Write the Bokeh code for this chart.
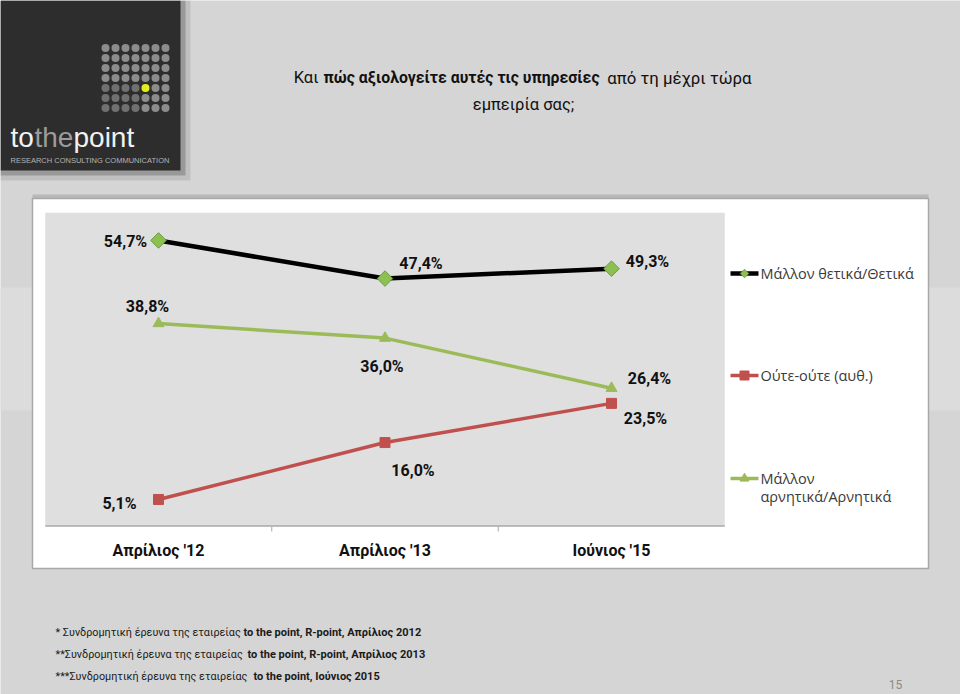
from bokeh.plotting import figure
from bokeh.models import Range1d, ColumnDataSource
from bokeh.core.properties import value
from bokeh.embed import file_html
from bokeh.resources import INLINE

# ---------------- data ----------------
categories = ["Απρίλιος '12", "Απρίλιος '13", "Ιούνιος '15"]
positive = [54.7, 47.4, 49.3]   # Μάλλον θετικά/Θετικά
neutral = [5.1, 16.0, 23.5]     # Ούτε-ούτε (αυθ.)
negative = [38.8, 36.0, 26.4]   # Μάλλον αρνητικά/Αρνητικά
series_names = ["Μάλλον θετικά/Θετικά", "Ούτε-ούτε (αυθ.)", "Μάλλον", "αρνητικά/Αρνητικά"]

title_1a = "Και"
title_1b = "πώς αξιολογείτε αυτές τις υπηρεσίες"
title_1c = "από τη μέχρι τώρα"
title_2 = "εμπειρία σας;"
notes_normal = ["* Συνδρομητική έρευνα της εταιρείας",
                "**Συνδρομητική έρευνα της εταιρείας",
                "***Συνδρομητική έρευνα της εταιρείας"]
notes_bold = ["to the point, R-point, Απρίλιος 2012",
              "to the point, R-point, Απρίλιος 2013",
              "to the point, Ιούνιος 2015"]
page_no = "15"

# label placement (pixel offsets from each point)
pos_dx, pos_dy = [-33, 36, 36], [1, -15, -7]
neu_dx, neu_dy = [-39, 28, 34], [4, 28, 15]
neg_dx, neg_dy = [-11, -3, 38], [-17, 28, -10]

def fmt(v):
    return f"{v:.1f}".replace(".", ",") + "%"

# ---------------- figure ----------------
W, H = 960, 694
p = figure(width=W, height=H, output_backend="svg", toolbar_location=None,
           x_range=Range1d(0, W), y_range=Range1d(H, 0),
           x_axis_location=None, y_axis_location=None, min_border=0)
p.outline_line_color = None
p.xgrid.visible = False
p.ygrid.visible = False
BG = "#d5d5d5"
p.background_fill_color = BG
p.border_fill_color = BG

def X(px):
    return px

def Y(py):
    return py

# scales for the chart itself
step = 226.5
xs0 = -158 / step
p.extra_x_ranges = {"cat": Range1d(xs0, xs0 + W / step)}
m = 5.222
ye = 525.6 / m
p.extra_y_ranges = {"pct": Range1d(ye - H / m, ye)}

# ---------------- slide decorations ----------------
p.quad(left=[X(0), X(928)], right=[X(32), X(960)], top=[Y(287), Y(287)], bottom=[Y(410), Y(410)],
       fill_color="#dcdcdc", line_color=None)

# logo shadow + box
p.quad(left=[X(0)], right=[X(190)], top=[Y(0)], bottom=[Y(180)], fill_color="#9a9a9a", fill_alpha=0.35, line_color=None)
p.quad(left=[X(0)], right=[X(185)], top=[Y(0)], bottom=[Y(175)], fill_color="#6a6a6a", fill_alpha=0.45, line_color=None)
p.quad(left=[X(0)], right=[X(180)], top=[Y(0)], bottom=[Y(170)], fill_color="#2d2d2d", line_color=None)

dot_x, dot_y, dot_c = [], [], []
for j in range(7):
    for i in range(7):
        dot_x.append(X(105 + 10 * i))
        dot_y.append(Y(47.5 + 10 * j))
        if i == 4 and j == 4:
            dot_c.append("#e3ef1c")
        elif j >= 4 and i <= 3:
            dot_c.append("#707070")
        else:
            dot_c.append("#8c8c8c")
p.scatter(x=dot_x, y=dot_y, size=8, marker="circle", fill_color=dot_c, line_color=None)

p.text(x=[X(10), X(34), X(73)], y=[Y(137)] * 3, text=["to", "the", "point"],
       text_color=["#f2f2f2", "#9c9c9c", "#f2f2f2"], text_font=value("Liberation Sans"),
       text_font_size="28px", text_align="left", text_baseline="alphabetic")
p.text(x=[X(10)], y=[Y(160)], text=["RESEARCH  CONSULTING  COMMUNICATION"], text_color="#b4b4b4",
       text_font=value("Liberation Sans"), text_font_size="7.5px", text_align="left", text_baseline="middle")

# title
p.text(x=[X(318)], y=[Y(77)], text=[title_1a], text_font=value("Roboto"), text_font_size="16.5px",
       text_color="#111111", text_align="right", text_baseline="middle")
p.text(x=[X(461)], y=[Y(77)], text=[title_1b], text_font=value("Roboto"), text_font_size="15.8px",
       text_font_style="bold", text_color="#111111", text_align="center", text_baseline="middle")
p.text(x=[X(751)], y=[Y(77)], text=[title_1c], text_font=value("Roboto"), text_font_size="16.8px",
       text_color="#111111", text_align="right", text_baseline="middle")
p.text(x=[X(523)], y=[Y(104)], text=[title_2], text_font=value("Roboto"), text_font_size="16.5px",
       text_color="#111111", text_align="center", text_baseline="middle")

# chart box
p.quad(left=[X(32)], right=[X(928)], top=[Y(194)], bottom=[Y(198)], fill_color="#b8b8b8", line_color=None)
p.quad(left=[X(32)], right=[X(928)], top=[Y(198)], bottom=[Y(568)], fill_color="white",
       line_color="#a8a8a8", line_width=1.5)

# plot area
p.quad(left=[-0.5], right=[2.5], bottom=[0], top=[60], fill_color="#dfdfdf", line_color=None,
       x_range_name="cat", y_range_name="pct")
p.segment(x0=[-0.5], x1=[2.5], y0=[0], y1=[0], line_color="#a9a9a9", line_width=1.5,
          x_range_name="cat", y_range_name="pct")
p.segment(x0=[0.5, 1.5], x1=[0.5, 1.5], y0=[Y(526)] * 2, y1=[Y(531)] * 2, line_color="#a9a9a9",
          line_width=1, x_range_name="cat")
p.text(x=[0, 1, 2], y=[Y(550)] * 3, text=categories, text_font=value("Roboto"), text_font_size="16px",
       text_font_style="bold", text_color="#111111", text_align="center", text_baseline="middle",
       x_range_name="cat")

# series
cx = [0, 1, 2]
GREEN = "#9bbb59"
RED = "#c0504d"
p.line(cx, negative, line_color=GREEN, line_width=3.5, x_range_name="cat", y_range_name="pct")
p.scatter(cx, negative, marker="triangle", size=11, fill_color=GREEN, line_color=GREEN,
          x_range_name="cat", y_range_name="pct")
p.line(cx, neutral, line_color=RED, line_width=3.5, x_range_name="cat", y_range_name="pct")
p.scatter(cx, neutral, marker="square", size=10, fill_color=RED, line_color=RED,
          x_range_name="cat", y_range_name="pct")
p.line(cx, positive, line_color="black", line_width=4.5, x_range_name="cat", y_range_name="pct")
p.scatter(cx, positive, marker="square", angle=0.785398, size=11, fill_color="#8cc152",
          line_color="#6b9a3c", line_width=1, x_range_name="cat", y_range_name="pct")

for vals, dx, dy in [(positive, pos_dx, pos_dy), (neutral, neu_dx, neu_dy), (negative, neg_dx, neg_dy)]:
    src = ColumnDataSource(dict(x=cx, y=vals, t=[fmt(v) for v in vals], dx=dx, dy=dy))
    p.text(x="x", y="y", text="t", x_offset="dx", y_offset="dy", source=src,
           text_font=value("Roboto"), text_font_size="16px", text_font_style="bold",
           text_color="#111111", text_align="center", text_baseline="middle",
           x_range_name="cat", y_range_name="pct")

# legend
ly = [273, 375, 478]
p.segment(x0=[X(730)], x1=[X(758)], y0=[Y(ly[0])], y1=[Y(ly[0])], line_color="black", line_width=4.5)
p.scatter([X(744)], [Y(ly[0])], marker="square", angle=0.785398, size=6, fill_color="#8cc152",
          line_color="#6b9a3c")
p.segment(x0=[X(730)], x1=[X(758)], y0=[Y(ly[1])], y1=[Y(ly[1])], line_color=RED, line_width=3.5)
p.scatter([X(744)], [Y(ly[1])], marker="square", size=9, fill_color=RED, line_color=RED)
p.segment(x0=[X(730)], x1=[X(758)], y0=[Y(ly[2])], y1=[Y(ly[2])], line_color=GREEN, line_width=3.5)
p.scatter([X(744)], [Y(ly[2])], marker="triangle", size=9, fill_color=GREEN, line_color=GREEN)
p.text(x=[X(760)] * 4, y=[Y(ly[0]), Y(ly[1]), Y(ly[2]), Y(ly[2] + 18)], text=series_names,
       text_font=value("Open Sans"), text_font_size="14.5px", text_color="#3a3a3a",
       text_align="left", text_baseline="middle")

# footnotes
fy = [632, 654, 676]
bx = [243, 247, 253]
p.text(x=[X(55)] * 3, y=[Y(v) for v in fy], text=notes_normal, text_font=value("Roboto"),
       text_font_size="10.8px", text_color="#1a1a1a", text_align="left", text_baseline="middle")
p.text(x=[X(v) for v in bx], y=[Y(v) for v in fy], text=notes_bold, text_font=value("Roboto"),
       text_font_size="11px", text_font_style="bold", text_color="#1a1a1a", text_align="left",
       text_baseline="middle")

p.text(x=[X(895)], y=[Y(684)], text=[page_no], text_font=value("Roboto"), text_font_size="12px",
       text_color="#8a8a8a", text_align="center", text_baseline="middle")

open("out.html", "w").write(file_html(p, INLINE))
